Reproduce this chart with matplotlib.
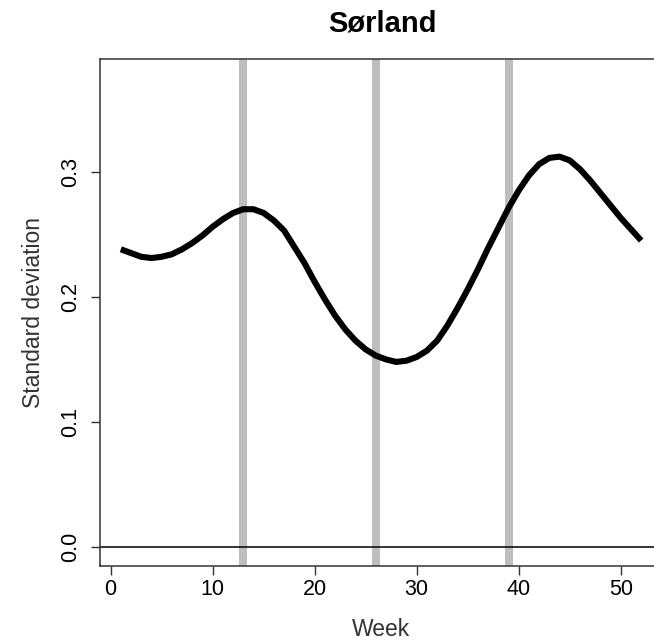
import matplotlib
matplotlib.use("Agg")
import matplotlib.pyplot as plt
import numpy as np

# weekly standard deviation for the region
weeks = np.arange(1, 53)
std_dev = [
    0.238, 0.235, 0.232, 0.231, 0.232, 0.234, 0.238, 0.243, 0.249, 0.256,
    0.262, 0.267, 0.270, 0.270, 0.267, 0.261, 0.253, 0.240, 0.227, 0.212,
    0.198, 0.185, 0.174, 0.165, 0.158, 0.153, 0.150, 0.148, 0.149, 0.152,
    0.157, 0.165, 0.177, 0.191, 0.206, 0.222, 0.239, 0.255, 0.271, 0.285,
    0.297, 0.306, 0.311, 0.312, 0.309, 0.302, 0.293, 0.283, 0.273, 0.263,
    0.254, 0.245,
]
season_breaks = [13, 26, 39]
x_ticks = [0, 10, 20, 30, 40, 50]
y_ticks = [0.0, 0.1, 0.2, 0.3]
y_tick_labels = ["0.0", "0.1", "0.2", "0.3"]

plt.rcParams["font.family"] = ["Liberation Sans", "DejaVu Sans"]

W, H = 654, 641
fig = plt.figure(figsize=(W / 100, H / 100), dpi=100)
# plot box runs past the right edge of the figure
ax = fig.add_axes([100 / W, 75 / H, 562 / W, 507 / H])

for wk in season_breaks:
    ax.axvline(wk, color="#BEBEBE", lw=5.8, zorder=1)
ax.axhline(0, color="black", lw=1.1, zorder=2)
ax.plot(weeks, std_dev, color="black", lw=4.4, solid_capstyle="butt",
        solid_joinstyle="round", zorder=3)

ax.set_xlim(-1.04, 54.04)
ax.set_ylim(-0.015, 0.39)
ax.set_xticks(x_ticks)
ax.set_yticks(y_ticks)
ax.set_yticklabels(y_tick_labels, rotation=90, va="center")
ax.tick_params(axis="both", length=6.5, width=1.0, labelsize=15.5, color="#333333")
ax.tick_params(axis="x", pad=3)
ax.tick_params(axis="y", pad=7)
for spine in ax.spines.values():
    spine.set_linewidth(1.1)
    spine.set_color("#333333")

ax.set_xlabel("Week", fontsize=16.5, labelpad=13, color="#333333")
ax.set_ylabel("Standard deviation", fontsize=16.5, labelpad=11, color="#333333")
fig.text(382 / W, 1 - 23 / H, "Sørland", fontsize=21, fontweight="bold",
         ha="center", va="center")

fig.savefig("out.png", dpi=100)
